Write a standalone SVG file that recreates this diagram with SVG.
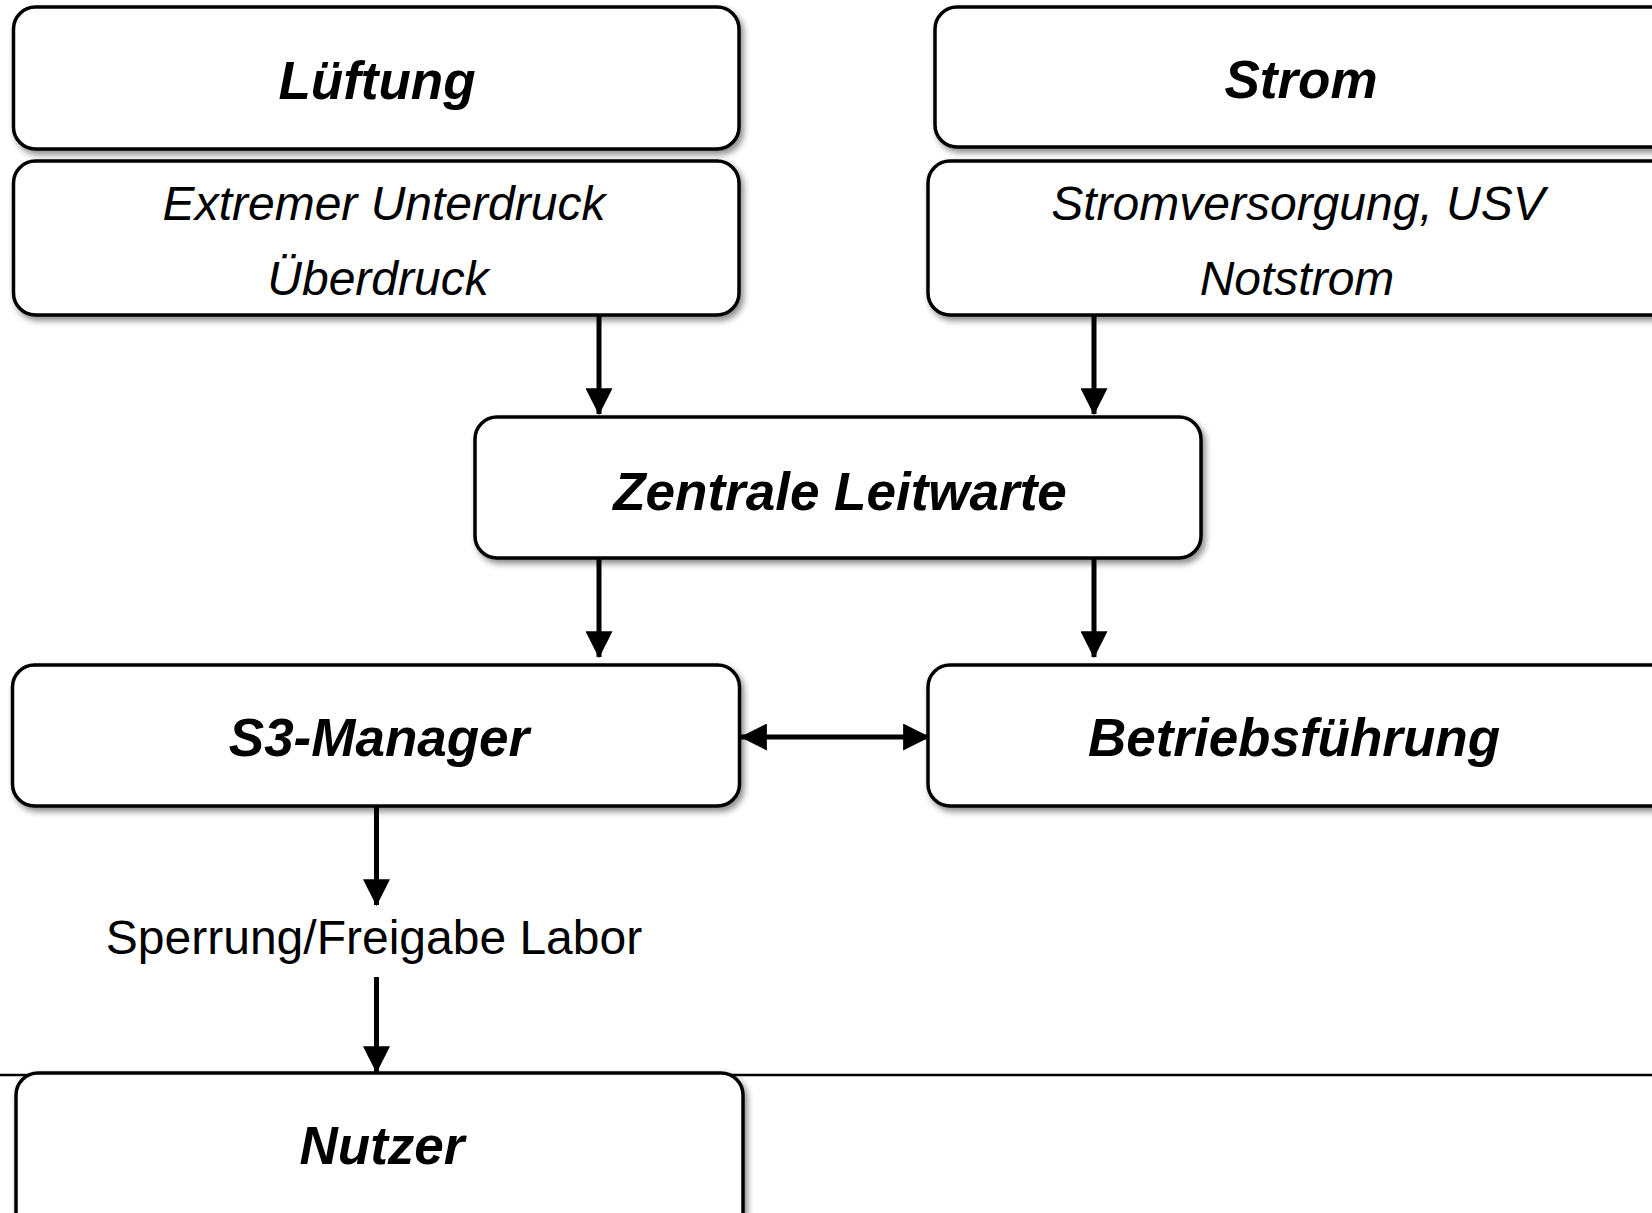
<svg xmlns="http://www.w3.org/2000/svg" width="1652" height="1213" viewBox="0 0 1652 1213">
<style>
.box{fill:#fff;stroke:#000;stroke-width:3.5;filter:url(#sh)}
.t{font-family:"Liberation Sans",Arial,sans-serif;font-style:italic;font-weight:bold;font-size:53px;text-anchor:middle;fill:#000}
.s{font-family:"Liberation Sans",Arial,sans-serif;font-style:italic;font-size:48px;text-anchor:middle;fill:#000}
.l{font-family:"Liberation Sans",Arial,sans-serif;font-size:48px;text-anchor:middle;fill:#000}
.c{stroke:#000;stroke-width:5;fill:none}
</style>
<defs>
<filter id="sh" x="-5%" y="-10%" width="112%" height="130%">
<feDropShadow dx="3" dy="4" stdDeviation="3" flood-color="#000" flood-opacity="0.45"/>
</filter>
<marker id="ah" markerUnits="userSpaceOnUse" markerWidth="27" markerHeight="27" viewBox="0 0 24 24" refX="23" refY="12" orient="auto-start-reverse">
<path d="M0,0 L24,12 L0,24 Z" fill="#000"/>
</marker>
</defs>
<line x1="0" y1="1075" x2="1652" y2="1075" stroke="#000" stroke-width="2.5"/>
<g id="connectors">
<line class="c" x1="599" y1="316" x2="599" y2="414" marker-end="url(#ah)"/>
<line class="c" x1="1094" y1="316" x2="1094" y2="414" marker-end="url(#ah)"/>
<line class="c" x1="599" y1="559" x2="599" y2="657" marker-end="url(#ah)"/>
<line class="c" x1="1094" y1="559" x2="1094" y2="657" marker-end="url(#ah)"/>
<line class="c" x1="741" y1="737" x2="929" y2="737" marker-start="url(#ah)" marker-end="url(#ah)"/>
<line class="c" x1="376.5" y1="806" x2="376.5" y2="905" marker-end="url(#ah)"/>
<line class="c" x1="376.5" y1="977" x2="376.5" y2="1072" marker-end="url(#ah)"/>
</g>
<g id="lueftung">
<rect class="box" x="13.5" y="7" width="725.5" height="142" rx="22"/>
<text class="t" x="377" y="99">Lüftung</text>
</g>
<g id="lueftung-details">
<rect class="box" x="13.5" y="161" width="725.5" height="154" rx="22"/>
<text class="s" x="384" y="220">Extremer Unterdruck</text>
<text class="s" x="378" y="295">Überdruck</text>
</g>
<g id="strom">
<rect class="box" x="935" y="7" width="740" height="140" rx="22"/>
<text class="t" x="1301" y="98">Strom</text>
</g>
<g id="strom-details">
<rect class="box" x="928" y="161" width="747" height="154" rx="22"/>
<text class="s" x="1298" y="220">Stromversorgung, USV</text>
<text class="s" x="1297" y="295">Notstrom</text>
</g>
<g id="zentrale-leitwarte">
<rect class="box" x="475" y="417" width="726" height="141" rx="22"/>
<text class="t" x="840" y="510">Zentrale Leitwarte</text>
</g>
<g id="s3-manager">
<rect class="box" x="12.5" y="665" width="727" height="141" rx="22"/>
<text class="t" x="379" y="756">S3-Manager</text>
</g>
<g id="betriebsfuehrung">
<rect class="box" x="928" y="665" width="747" height="141" rx="22"/>
<text class="t" x="1294" y="756">Betriebsführung</text>
</g>
<g id="sperrung-label">
<text class="l" x="374" y="954">Sperrung/Freigabe Labor</text>
</g>
<g id="nutzer">
<rect class="box" x="16" y="1073" width="727" height="170" rx="22"/>
<text class="t" x="382" y="1164">Nutzer</text>
</g>
</svg>
